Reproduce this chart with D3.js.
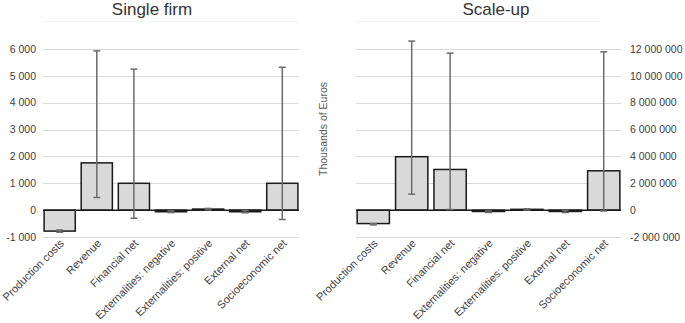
<!DOCTYPE html>
<html>
<head>
<meta charset="utf-8">
<script src="https://cdn.jsdelivr.net/npm/d3@7"></script>
<style>
  body { margin: 0; background: #fff; }
  svg { display: block; font-family: "Liberation Sans", Arial, sans-serif; }
</style>
</head>
<body>
<div id="app"></div>
<script>
// categories and values (thousands of euros)
const categories = ['Production costs', 'Revenue', 'Financial net', 'Externalities: negative',
  'Externalities: positive', 'External net', 'Socioeconomic net']

const singleValues = [-780, 1760, 1000, -60, 40, -60, 1000]
const singleLow = [-820, 470, -300, -90, 15, -100, -350]
const singleHigh = [-740, 5930, 5250, -30, 65, -20, 5320]
const singleTicks = [-1000, 0, 1000, 2000, 3000, 4000, 5000, 6000]

const scaleValues = [-1000000, 3980000, 3030000, -100000, 60000, -100000, 2930000]
const scaleLow = [-1100000, 1190000, 50000, -180000, 10000, -180000, -60000]
const scaleHigh = [-1000000, 12590000, 11690000, -60000, 100000, -20000, 11790000]
const scaleTicks = [-2000000, 0, 2000000, 4000000, 6000000, 8000000, 10000000, 12000000]

const width = 685
const height = 323

// number format with spaces as thousand separators
const locale = d3.formatLocale({ decimal: ',', thousands: ' ', grouping: [3], currency: ['', ''], minus: '-' })
const fmt = locale.format(',d')

const svg = d3.select('#app').append('svg').attr('width', width).attr('height', height)

function drawPanel(opts) {
  const g = svg.append('g')
  const x = d3.scaleBand().domain(categories).range(opts.xRange).paddingInner(0.16).paddingOuter(0.03)
  const y = d3.scaleLinear().domain(opts.domain).range([237, 49])

  // title and faint line below it
  g.append('text')
    .attr('x', opts.titleX)
    .attr('y', 15)
    .attr('text-anchor', 'middle')
    .attr('font-size', '17px')
    .attr('fill', '#333')
    .text(opts.title)
  g.append('line')
    .attr('x1', opts.xRange[0]).attr('x2', opts.lineEnd)
    .attr('y1', 21.5).attr('y2', 21.5)
    .style('stroke', '#f3f3f3')

  // gridlines
  g.selectAll('line.grid')
    .data(opts.ticks.filter((d) => d !== 0))
    .enter()
    .append('line')
    .attr('class', 'grid')
    .attr('x1', opts.xRange[0])
    .attr('x2', opts.xRange[1])
    .attr('y1', (d) => Math.round(y(d)) + 0.5)
    .attr('y2', (d) => Math.round(y(d)) + 0.5)
    .style('stroke', '#d9d9d9')

  // tick labels
  g.selectAll('text.tick')
    .data(opts.ticks)
    .enter()
    .append('text')
    .attr('class', 'tick')
    .attr('x', opts.labelX)
    .attr('y', (d) => y(d))
    .attr('dy', '0.35em')
    .attr('text-anchor', opts.labelAnchor)
    .attr('font-size', '10.5px')
    .attr('fill', '#404040')
    .text((d) => fmt(d))

  // bars
  g.selectAll('rect.bar')
    .data(opts.values)
    .enter()
    .append('rect')
    .attr('class', 'bar')
    .attr('x', (d, i) => x(categories[i]))
    .attr('width', x.bandwidth())
    .attr('y', (d) => Math.min(y(d), y(0)))
    .attr('height', (d) => Math.abs(y(d) - y(0)))
    .style('fill', '#d9d9d9')
    .style('stroke', '#1a1a1a')
    .style('stroke-width', 1.5)

  // zero line
  g.append('line')
    .attr('x1', opts.xRange[0]).attr('x2', opts.xRange[1])
    .attr('y1', y(0)).attr('y2', y(0))
    .style('stroke', '#1a1a1a')
    .style('stroke-width', 1.5)

  // error bars
  const err = g.selectAll('g.err')
    .data(categories)
    .enter()
    .append('g')
    .attr('class', 'err')
    .attr('transform', (d) => `translate(${x(d) + x.bandwidth() / 2},0)`)
    .style('stroke', '#6b6b6b')
    .style('stroke-width', 1.5)
  err.append('line')
    .attr('y1', (d, i) => y(opts.low[i]))
    .attr('y2', (d, i) => y(opts.high[i]))
  err.append('line')
    .attr('x1', -3.5).attr('x2', 3.5)
    .attr('y1', (d, i) => y(opts.low[i]))
    .attr('y2', (d, i) => y(opts.low[i]))
  err.append('line')
    .attr('x1', -3.5).attr('x2', 3.5)
    .attr('y1', (d, i) => y(opts.high[i]))
    .attr('y2', (d, i) => y(opts.high[i]))

  // category labels, rotated
  g.selectAll('text.cat')
    .data(categories)
    .enter()
    .append('text')
    .attr('class', 'cat')
    .attr('text-anchor', 'end')
    .attr('font-size', '11px')
    .attr('fill', '#404040')
    .attr('transform', (d) => `translate(${x(d) + x.bandwidth() / 2 + 5},${244}) rotate(-45)`)
    .text((d) => d)
}

drawPanel({
  title: 'Single firm', titleX: 152, lineEnd: 299,
  xRange: [43, 299], domain: [-1000, 6000], ticks: singleTicks,
  values: singleValues, low: singleLow, high: singleHigh,
  labelX: 36, labelAnchor: 'end'
})

drawPanel({
  title: 'Scale-up', titleX: 496, lineEnd: 600,
  xRange: [356, 621], domain: [-2000000, 12000000], ticks: scaleTicks,
  values: scaleValues, low: scaleLow, high: scaleHigh,
  labelX: 630, labelAnchor: 'start'
})

// shared y axis title
svg.append('text')
  .attr('transform', 'translate(327,129) rotate(-90)')
  .attr('text-anchor', 'middle')
  .attr('font-size', '10.5px')
  .attr('fill', '#595959')
  .text('Thousands of Euros')
</script>
</body>
</html>
